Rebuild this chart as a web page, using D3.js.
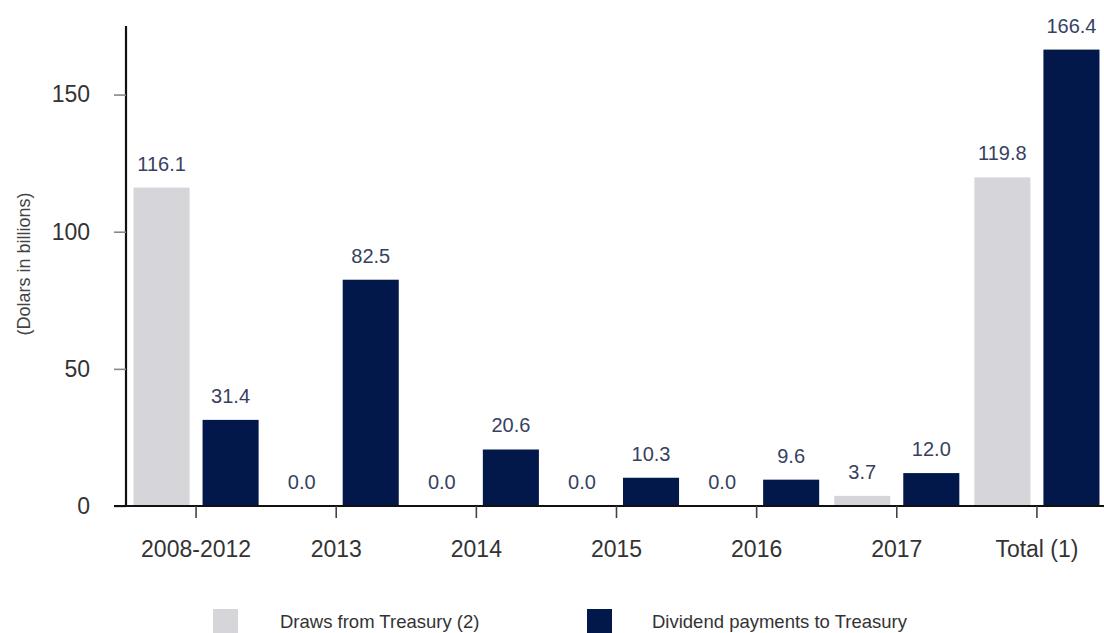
<!DOCTYPE html>
<html>
<head>
<meta charset="utf-8">
<script src="https://cdn.jsdelivr.net/npm/d3@7"></script>
<style>
  html, body { margin: 0; padding: 0; background: #fff; }
  svg { display: block; font-family: "Liberation Sans", Arial, sans-serif; }
</style>
</head>
<body>
<svg id="chart" width="1104" height="633"></svg>
<script>
const categories = ["2008-2012", "2013", "2014", "2015", "2016", "2017", "Total (1)"];
const seriesNames = ["Draws from Treasury (2)", "Dividend payments to Treasury"];
const draws = [116.1, 0.0, 0.0, 0.0, 0.0, 3.7, 119.8];
const dividends = [31.4, 82.5, 20.6, 10.3, 9.6, 12.0, 166.4];
const yTicks = [0, 50, 100, 150];
const colors = ["#d6d5da", "#02184a"];

const svg = d3.select("#chart");
const plotLeft = 126, plotRight = 1107, plotTop = 26, plotBottom = 506;

const x0 = d3.scaleBand().domain(categories).range([plotLeft, plotRight]).padding(0);
const x1 = d3.scaleBand().domain([0, 1]).range([0, x0.bandwidth()])
  .paddingInner(0.188).paddingOuter(0.109);
const y = d3.scaleLinear().domain([0, 175]).range([plotBottom, plotTop]);

const rows = categories.map((c, i) => ({ cat: c, vals: [draws[i], dividends[i]] }));

// bars
const g = svg.append("g");
const groups = g.selectAll("g.grp").data(rows).join("g")
  .attr("class", "grp")
  .attr("transform", d => `translate(${x0(d.cat)},0)`);

groups.selectAll("rect").data(d => d.vals.map((v, k) => ({ v, k }))).join("rect")
  .attr("x", d => x1(d.k))
  .attr("width", x1.bandwidth())
  .attr("y", d => y(d.v))
  .attr("height", d => y(0) - y(d.v))
  .attr("fill", d => colors[d.k]);

groups.selectAll("text.val").data(d => d.vals.map((v, k) => ({ v, k }))).join("text")
  .attr("class", "val")
  .attr("x", d => x1(d.k) + x1.bandwidth() / 2)
  .attr("y", d => y(d.v) - 17)
  .attr("text-anchor", "middle")
  .attr("font-size", 20)
  .attr("fill", "#37415f")
  .text(d => d.v.toFixed(1));

// y axis
const yAxis = svg.append("g")
  .attr("transform", `translate(${plotLeft},0)`)
  .call(d3.axisLeft(y).tickValues(yTicks).tickSize(12).tickPadding(24).tickFormat(d3.format("d")));
yAxis.select(".domain").attr("stroke", "#111").attr("stroke-width", 2.2)
  .attr("d", `M0,${plotTop}V${plotBottom}`);
yAxis.selectAll(".tick line").attr("stroke", "#888").attr("stroke-width", 1.6);
yAxis.selectAll(".tick text").attr("font-size", 23).attr("fill", "#333")
  .attr("font-family", "Liberation Sans, Arial, sans-serif");

// x axis
const xAxis = svg.append("g")
  .attr("transform", `translate(0,${plotBottom})`)
  .call(d3.axisBottom(x0).tickSize(12).tickPadding(23).tickSizeOuter(0));
xAxis.select(".domain").attr("stroke", "#111").attr("stroke-width", 2.2)
  .attr("d", `M${plotLeft - 12},0H${plotRight}`);
xAxis.selectAll(".tick line").attr("stroke", "#444").attr("stroke-width", 1.6);
xAxis.selectAll(".tick text").attr("font-size", 23).attr("fill", "#333")
  .attr("font-family", "Liberation Sans, Arial, sans-serif");

// y label
svg.append("text")
  .attr("transform", "translate(30,264) rotate(-90)")
  .attr("text-anchor", "middle")
  .attr("font-size", 18)
  .attr("fill", "#444")
  .text("(Dolars in billions)");

// legend
const legendX = [213, 587];
const leg = svg.append("g").selectAll("g").data(seriesNames).join("g")
  .attr("transform", (d, i) => `translate(${legendX[i]},609)`);
leg.append("rect").attr("width", 25).attr("height", 25).attr("fill", (d, i) => colors[i]);
leg.append("text").attr("x", (d, i) => i === 0 ? 67 : 65).attr("y", 19)
  .attr("font-size", 18.5).attr("fill", "#333").text(d => d);
</script>
</body>
</html>
